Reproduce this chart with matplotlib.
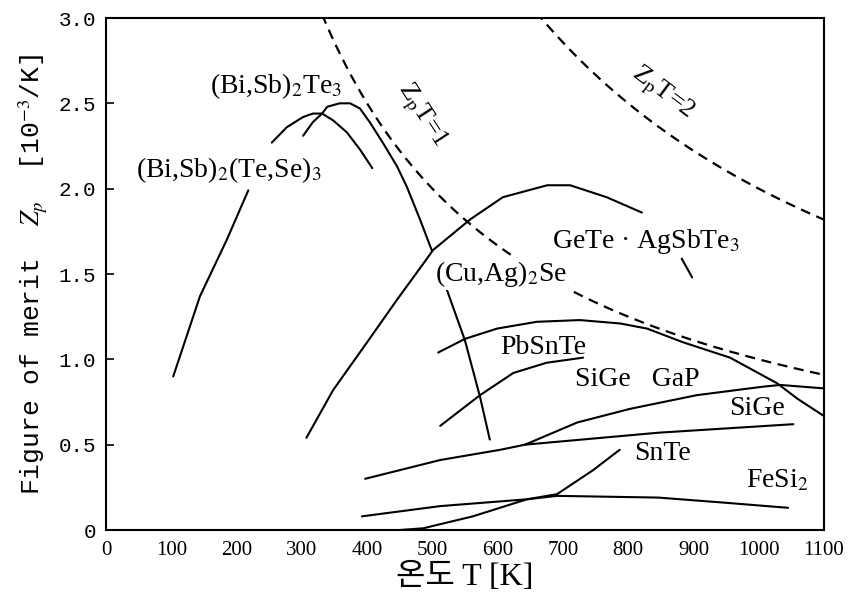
import numpy as np
import matplotlib
matplotlib.use("Agg")
import matplotlib.pyplot as plt

plt.rcParams['font.family'] = ['Liberation Serif', 'Noto Sans CJK KR', 'DejaVu Sans']
plt.rcParams['mathtext.fontset'] = 'stix'

nan = np.nan

# Temperature T [K] and figure of merit Z [1e-3/K]; NaN marks a break under a label
bisbtese_T = [103, 144, 185, 218, nan, 254, 277, 302, 317, 331, 348, 369, 389, 408]
bisbtese_Z = [0.90, 1.37, 1.70, 1.99, nan, 2.27, 2.36, 2.42, 2.44, 2.44, 2.40, 2.33, 2.23, 2.12]

bisbte_T = [302, 317, 331, 339, 358, 374, 389, 404, 424, 446, 461, 481, 499,
            nan, 522, 550, 573, 588]
bisbte_Z = [2.31, 2.39, 2.44, 2.48, 2.50, 2.50, 2.47, 2.39, 2.27, 2.13, 2.01, 1.82, 1.64,
            nan, 1.41, 1.11, 0.78, 0.53]

cuagse_T = [307, 348, 400, 446, 486, 501, 558, 608, 676, 711, 767, 821, nan, 882, 898]
cuagse_Z = [0.54, 0.82, 1.10, 1.35, 1.56, 1.64, 1.82, 1.95, 2.02, 2.02, 1.95, 1.86, nan, 1.59, 1.48]

upper_T = [509, 550, 599, 660, 726, 788, 829, 884, 956, 1028, 1059, 1099]
upper_Z = [1.04, 1.12, 1.18, 1.22, 1.23, 1.21, 1.18, 1.10, 1.01, 0.86, 0.77, 0.67]

pbsnte_T = [512, 573, 624, 675, 731]
pbsnte_Z = [0.61, 0.79, 0.92, 0.98, 1.01]

sigegap_T = [642, 685, 722, 803, 905, 1007, 1033, 1099]
sigegap_Z = [0.50, 0.57, 0.63, 0.71, 0.79, 0.84, 0.85, 0.83]

sige_T = [397, 512, 604, 642, 846, 1053]
sige_Z = [0.30, 0.41, 0.47, 0.50, 0.57, 0.62]

fesi2_T = [392, 512, 645, 691, 846, 948, 1045]
fesi2_Z = [0.08, 0.14, 0.18, 0.20, 0.19, 0.16, 0.13]

snte_T = [450, 486, 562, 645, 691, 746, 787]
snte_Z = [0.00, 0.01, 0.08, 0.18, 0.21, 0.35, 0.47]

# Constant Z_p*T guide lines
zt_levels = [1, 2]

x_ticks = [0, 100, 200, 300, 400, 500, 600, 700, 800, 900, 1000, 1100]
y_ticks = [0, 0.5, 1.0, 1.5, 2.0, 2.5, 3.0]
y_ticklabels = ["0", "0.5", "1.0", "1.5", "2.0", "2.5", "3.0"]

fig = plt.figure(figsize=(8.5, 6.03), dpi=100)
ax = fig.add_axes([106 / 850, 1 - 530 / 603, (824 - 106) / 850, (530 - 18) / 603])

lw = 1.5
for T, Z in [(bisbtese_T, bisbtese_Z), (bisbte_T, bisbte_Z), (cuagse_T, cuagse_Z),
             (upper_T, upper_Z), (pbsnte_T, pbsnte_Z), (sigegap_T, sigegap_Z),
             (sige_T, sige_Z), (fesi2_T, fesi2_Z), (snte_T, snte_Z)]:
    ax.plot(T, Z, color='black', lw=lw, solid_capstyle='round', solid_joinstyle='round')

T_grid = np.linspace(300, 1100, 400)
for zt in zt_levels:
    ax.plot(T_grid, zt * 1000.0 / T_grid, color='black', lw=1.6,
            linestyle=(0, (4.5, 3)))

ax.set_xlim(0, 1100)
ax.set_ylim(0, 3.0)

ax.set_xticks(x_ticks)
ax.set_xticklabels([str(v) for v in x_ticks], fontsize=15)
ax.set_yticks(y_ticks)
ax.set_yticklabels(y_ticklabels, fontsize=15, family=['Liberation Mono'])
ax.tick_params(axis='x', length=0, pad=8)
ax.tick_params(axis='y', direction='in', length=6, width=1.2, pad=7)
for s in ax.spines.values():
    s.set_linewidth(1.5)

ax.set_xlabel("온도 T [K]", fontsize=23, labelpad=2)
ax.set_ylabel(r"Figure of merit  $Z_p$  [10$^{-3}$/K]", fontsize=19,
              family=['Liberation Mono'], labelpad=6)

fs = 20
ax.text(261, 2.60, r"(Bi,Sb)$_2$Te$_3$", fontsize=fs, ha='center', va='center')
ax.text(188, 2.11, r"(Bi,Sb)$_2$(Te,Se)$_3$", fontsize=fs, ha='center', va='center')
ax.text(605, 1.50, r"(Cu,Ag)$_2$Se", fontsize=fs, ha='center', va='center',
        bbox=dict(facecolor='white', edgecolor='none', pad=0.5))
ax.text(827, 1.69, r"GeTe · AgSbTe$_3$", fontsize=fs, ha='center', va='center')
ax.text(670, 1.07, "PbSnTe", fontsize=fs, ha='center', va='center')
ax.text(814, 0.88, "SiGe   GaP", fontsize=fs, ha='center', va='center')
ax.text(997, 0.71, "SiGe", fontsize=fs, ha='center', va='center')
ax.text(852, 0.45, "SnTe", fontsize=fs, ha='center', va='center')
ax.text(1029, 0.29, r"FeSi$_2$", fontsize=fs, ha='center', va='center')
ax.text(483, 2.43, r"Z$_\mathrm{p}$T=1", fontsize=19, ha='center', va='center', rotation=-57)
ax.text(852, 2.56, r"Z$_\mathrm{p}$T=2", fontsize=19, ha='center', va='center', rotation=-37)

fig.savefig("out.png", dpi=100)
